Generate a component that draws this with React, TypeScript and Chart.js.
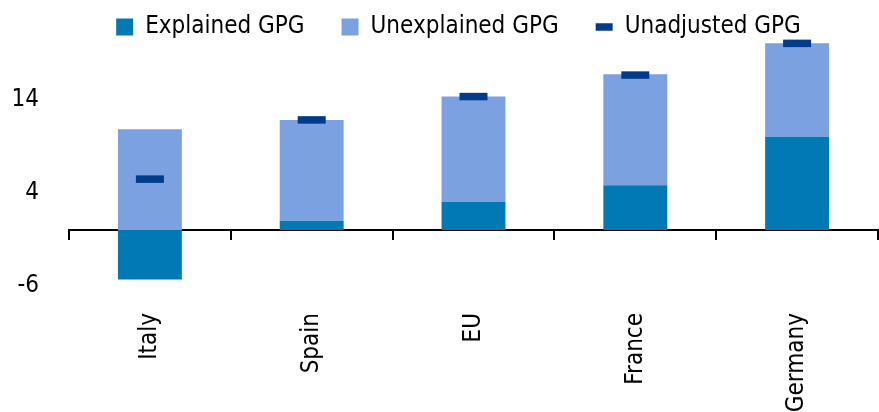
import React, { useEffect, useRef } from "react";
import { Chart, registerables } from "chart.js";

Chart.register(...registerables);

const categories = ["Italy", "Spain", "EU", "France", "Germany"];
const explainedGPG = [-5.3, 1.0, 3.0, 4.8, 10.0];
const unexplainedGPG = [10.8, 10.8, 11.3, 11.9, 10.0];
const unadjustedGPG = [5.45, 11.8, 14.3, 16.6, 20.0];
const yTickValues = [-6, 4, 14];

const FONT = "'DejaVu Sans Condensed', 'DejaVu Sans', sans-serif";
const FONT_SIZE = 24;

const legendShift = {
  id: "legendShift",
  afterLayout(chart: any) {
    const lg = chart.legend;
    if (lg) {
      lg.left += 13;
      lg.right += 13;
      lg.bottom += 14;
      lg.height += 14;
    }
  },
};

export default function App() {
  const ref = useRef<HTMLCanvasElement | null>(null);

  useEffect(() => {
    if (!ref.current) return;
    const chart = new Chart(ref.current, {
      type: "bar",
      plugins: [legendShift],
      data: {
        labels: categories,
        datasets: [
          {
            label: "Explained GPG",
            data: explainedGPG,
            backgroundColor: "#0079B4",
            borderWidth: 0,
            pointStyle: "rect",
            categoryPercentage: 1,
            barPercentage: 0.395,
            stack: "s",
            clip: false,
            order: 2,
          } as any,
          {
            label: "Unexplained GPG",
            data: unexplainedGPG,
            backgroundColor: "#7BA1E1",
            borderWidth: 0,
            pointStyle: "rect",
            categoryPercentage: 1,
            barPercentage: 0.395,
            stack: "s",
            clip: false,
            order: 2,
          } as any,
          {
            type: "line",
            label: "Unadjusted GPG",
            data: unadjustedGPG,
            showLine: false,
            pointStyle: "line",
            pointRadius: 14,
            pointHoverRadius: 14,
            pointBorderWidth: 7.5,
            pointBorderColor: "#003C8A",
            pointBackgroundColor: "#003C8A",
            borderColor: "#003C8A",
            backgroundColor: "#003C8A",
            stack: "m",
            clip: false,
            order: 1,
          } as any,
        ],
      },
      options: {
        animation: false,
        responsive: true,
        maintainAspectRatio: false,
        layout: { autoPadding: false, padding: { top: -22, left: 13, right: 1, bottom: 0 } },
        plugins: {
          tooltip: { enabled: false },
          legend: {
            position: "top",
            maxHeight: 58,
            labels: {
              usePointStyle: true,
              pointStyleWidth: 17,
              boxWidth: 17,
              boxHeight: 17,
              padding: 37,
              color: "#000",
              font: { family: FONT, size: FONT_SIZE },
              sort: (a: any, b: any) => a.datasetIndex - b.datasetIndex,
            },
          } as any,
        },
        scales: {
          x: {
            type: "category",
            stacked: true,
            offset: true,
            grid: { display: false, drawTicks: false, offset: true },
            border: { display: false },
            ticks: {
              minRotation: 90,
              maxRotation: 90,
              padding: 27,
              color: "#000",
              font: { family: FONT, size: FONT_SIZE },
            },
            afterFit: (s: any) => {
              s.height = 126;
              s.paddingLeft = 0;
              s.paddingRight = 0;
            },
          },
          x0: {
            type: "category",
            axis: "x",
            position: { y: 0 } as any,
            offset: true,
            grid: {
              display: true,
              drawOnChartArea: false,
              drawTicks: true,
              tickLength: 9,
              color: "#000",
              lineWidth: 2,
              offset: true,
            },
            border: { display: true, color: "#000", width: 2 },
            ticks: { display: false },
            afterFit: (s: any) => {
              s.height = 0;
              s.paddingLeft = 0;
              s.paddingRight = 0;
            },
          } as any,
          y: {
            stacked: true,
            min: -6,
            max: 20.79,
            afterBuildTicks: (axis: any) => {
              axis.ticks = yTickValues.map((v) => ({ value: v }));
            },
            grid: { display: false, drawTicks: false },
            border: { display: false },
            ticks: {
              padding: 30,
              color: "#000",
              font: { family: FONT, size: FONT_SIZE },
            },
            afterFit: (s: any) => {
              s.width = 56;
              s.paddingTop = 0;
              s.paddingBottom = 0;
            },
          },
        },
      },
    });
    return () => chart.destroy();
  }, []);

  return (
    <div style={{ position: "fixed", left: 0, top: 0, width: 879, height: 412, background: "#fff" }}>
      <canvas ref={ref} />
    </div>
  );
}
